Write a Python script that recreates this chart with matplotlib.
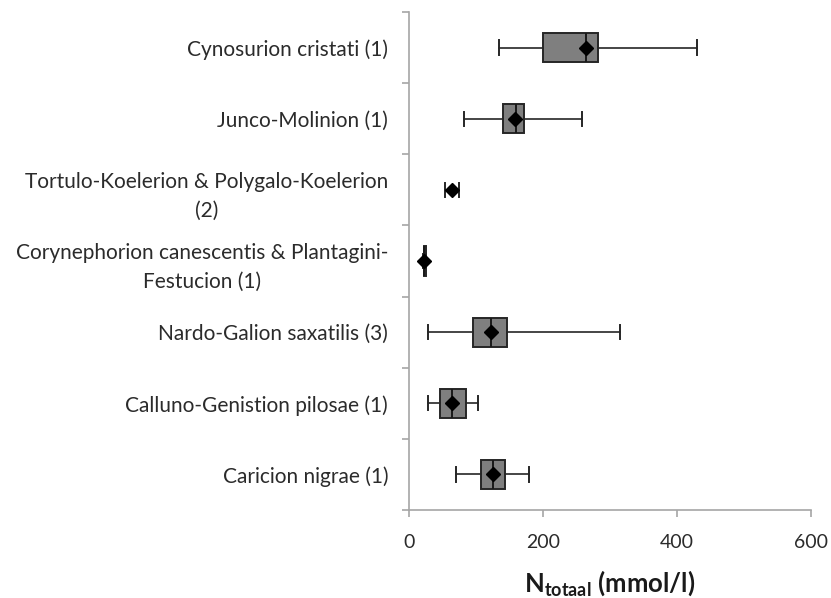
import matplotlib
matplotlib.use("Agg")
import matplotlib.pyplot as plt

plt.rcParams['font.family'] = ['Lato', 'DejaVu Sans']
plt.rcParams['mathtext.fontset'] = 'custom'
plt.rcParams['mathtext.rm'] = 'Lato'
plt.rcParams['mathtext.bf'] = 'Lato:bold'

# vegetation classes, top to bottom
classes = [
    "Cynosurion cristati (1)",
    "Junco-Molinion (1)",
    "Tortulo-Koelerion & Polygalo-Koelerion\n(2)",
    "Corynephorion canescentis & Plantagini-\nFestucion (1)",
    "Nardo-Galion saxatilis (3)",
    "Calluno-Genistion pilosae (1)",
    "Caricion nigrae (1)",
]
whis_lo = [135, 82, 54, 21, 28, 28, 70]
q1      = [200, 141, 64, 22, 96, 46, 107]
median  = [264, 159, 64, 23, 123, 64, 125]
q3      = [282, 172, 64, 25, 147, 85, 143]
whis_hi = [430, 258, 75, 26, 315, 103, 179]
means   = [264, 158, 64, 23, 122, 64, 125]

n = len(classes)
ypos = list(range(n, 0, -1))

stats = []
for i in range(n):
    stats.append(dict(whislo=whis_lo[i], q1=q1[i], med=median[i], q3=q3[i],
                      whishi=whis_hi[i], mean=means[i], fliers=[]))

fig = plt.figure(figsize=(8.31, 5.98), dpi=100)
ax = fig.add_axes([409 / 831, 1 - 510 / 598, (811 - 409) / 831, (510 - 12) / 598])

parts = ax.bxp(stats, positions=ypos, orientation='horizontal', widths=0.41,
               capwidths=0.2, showmeans=True, patch_artist=True,
               boxprops=dict(facecolor='#7f7f7f', edgecolor='#262626', linewidth=1.4),
               medianprops=dict(color='#1a1a1a', linewidth=1.4),
               whiskerprops=dict(color='#262626', linewidth=1.2),
               capprops=dict(color='#262626', linewidth=1.4),
               meanprops=dict(marker='D', markerfacecolor='black',
                              markeredgecolor='black', markersize=7.5))

# a zero-width box (q1 == q3) is not drawn at all
for i in range(n):
    if q1[i] == q3[i]:
        parts['boxes'][i].set_visible(False)
        parts['medians'][i].set_visible(False)

ax.set_xlim(0, 600)
ax.set_ylim(0.5, n + 0.5)
ax.set_xticks([0, 200, 400, 600])
ax.set_yticks(ypos)
ax.set_yticklabels(classes)
ax.set_yticks([k + 0.5 for k in range(n + 1)], minor=True)

for lbl in ax.get_yticklabels():
    lbl.set_multialignment('center')
    lbl.set_linespacing(1.56)

ax.tick_params(axis='y', which='major', length=0, pad=15, labelsize=15,
               labelcolor='#2b2b2b')
ax.tick_params(axis='y', which='minor', length=5, width=1.2, color='#a6a6a6')
ax.tick_params(axis='x', length=5, width=1.2, color='#a6a6a6', pad=12,
               labelsize=14, labelcolor='#2b2b2b')

for side in ('top', 'right'):
    ax.spines[side].set_visible(False)
for side in ('left', 'bottom'):
    ax.spines[side].set_color('#a6a6a6')
    ax.spines[side].set_linewidth(1.2)

ax.set_xlabel(r'$\mathbf{N_{totaal}}$ (mmol/l)', fontsize=18.5, fontweight='bold',
              color='#1a1a1a', labelpad=13)

fig.savefig('out.png', dpi=100)
